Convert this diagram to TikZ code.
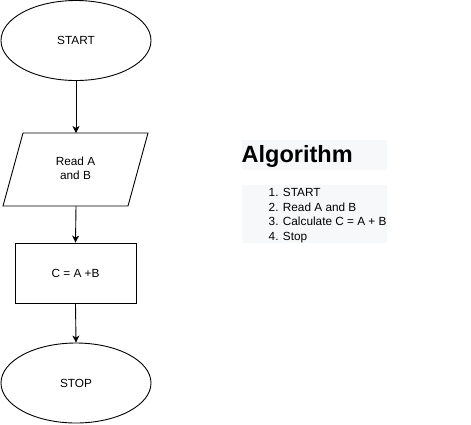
\documentclass[tikz,border=0pt]{standalone}
\usepackage{fontspec}
\setmainfont{Liberation Sans}
\usetikzlibrary{shapes.geometric,arrows.meta}
\definecolor{boxbg}{HTML}{F7F8F9}
\begin{document}
\begin{tikzpicture}[x=1pt,y=-1pt,
  every node/.style={font=\fontsize{11.8}{14.5}\selectfont, inner sep=0pt},
  term/.style={ellipse, draw, line width=0.9pt, minimum width=150pt, minimum height=80pt},
  procbox/.style={rectangle, draw, line width=0.9pt, minimum width=121pt, minimum height=60pt},
  flow/.style={draw, line width=0.9pt, -{Stealth[length=7pt,width=7pt,inset=2pt]}},
  bg/.style={fill=boxbg, draw=none}]
\useasboundingbox (0,0) rectangle (471,424);
% start
\node[term] (start) at (76,40.5) {START};
% read (parallelogram)
\node[minimum width=125pt, minimum height=73pt] (read) at (75.5,169.5) {\begin{tabular}{c}Read A\\and B\end{tabular}};
\draw[line width=0.9pt] (23,133) -- (148,133) -- (128,206) -- (3,206) -- cycle;
% calc
\node[procbox] (calc) at (75.5,273) {C = A +B};
% stop
\node[term] (stop) at (76,383) {STOP};
% connectors
\draw[flow] (start.south) -- (76,133);
\draw[flow] (76,206) -- (calc.north);
\draw[flow] (calc.south) -- (stop.north);
% algorithm text
\fill[bg] (242,140) rectangle (387,170);
\node[anchor=west, font=\bfseries\fontsize{23.5}{26}\selectfont] (head) at (241.5,156) {Algorithm};
\fill[bg] (242,185) rectangle (387,243);
\node[anchor=north west, align=left] (list) at (268.5,188.5) {1. START\\2. Read A and B\\3. Calculate C = A + B\\4. Stop};
\end{tikzpicture}
\end{document}
